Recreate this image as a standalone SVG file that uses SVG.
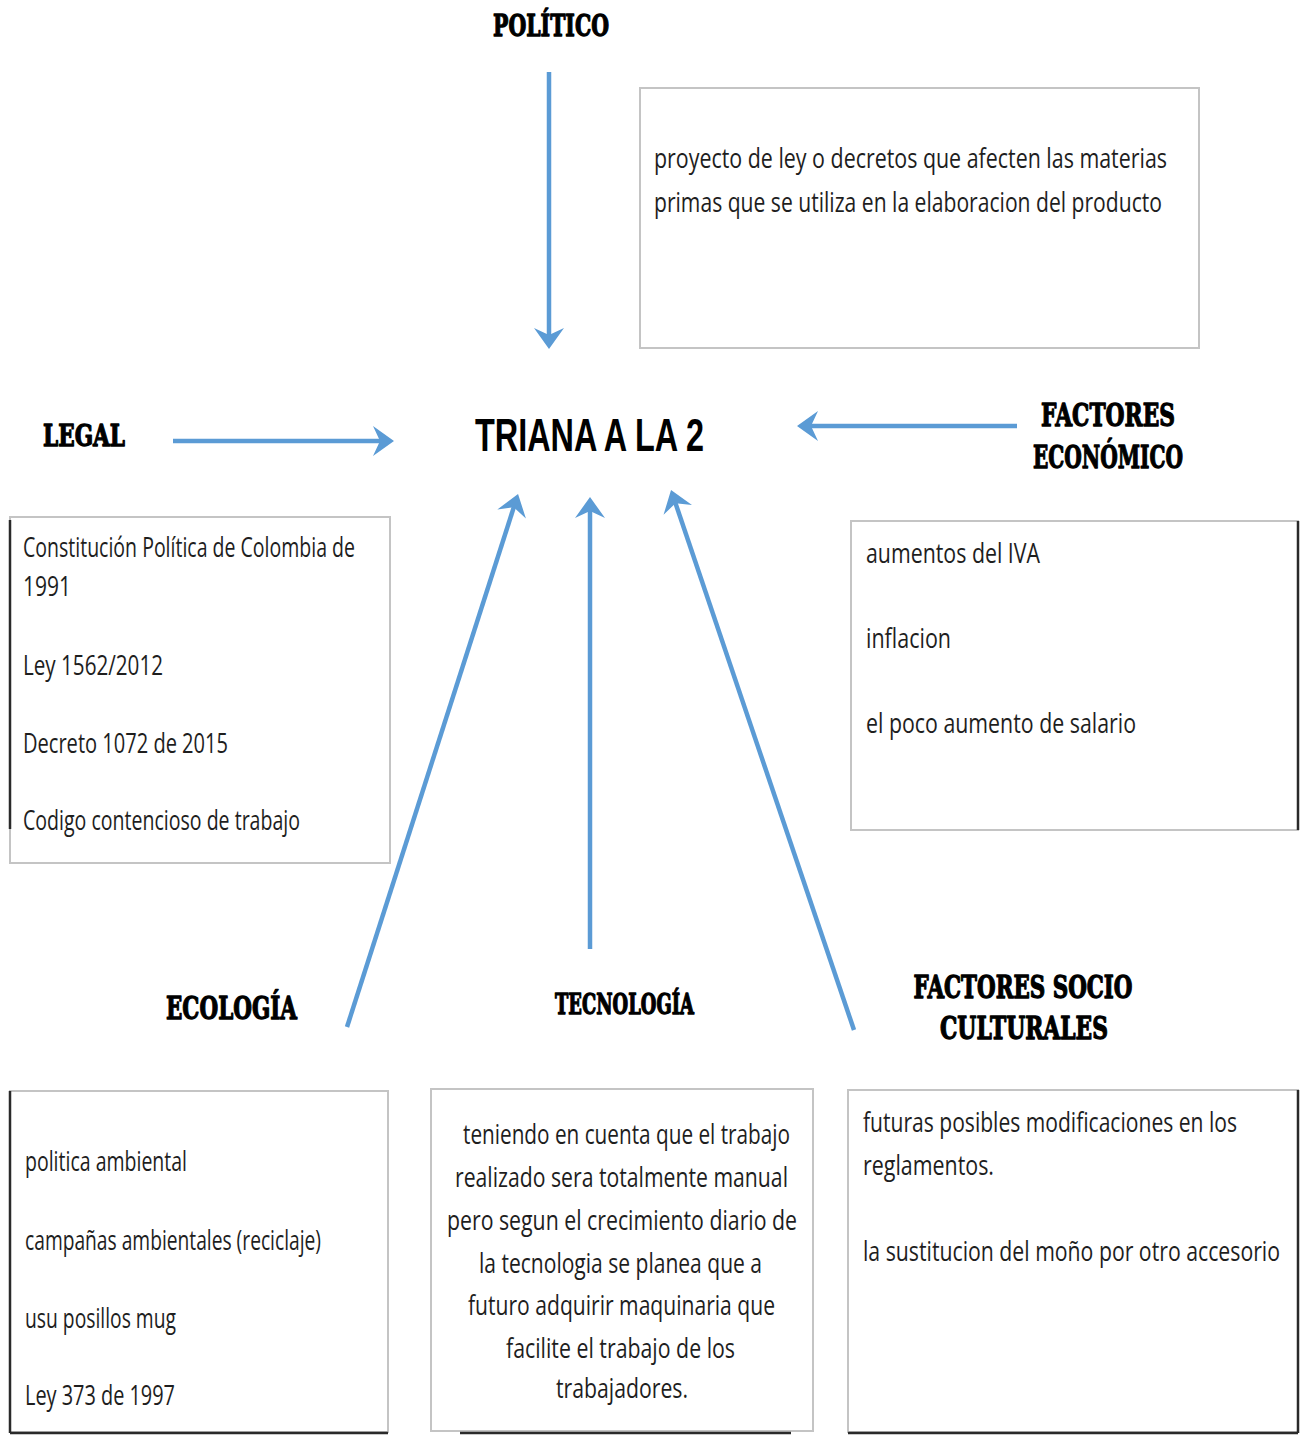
<svg xmlns="http://www.w3.org/2000/svg" width="1301" height="1437" viewBox="0 0 1301 1437">
<style>
.bg{fill:#ffffff}
.box{fill:#ffffff;stroke:#c4c4c4;stroke-width:2}
.shadow{stroke:#2a2a2a;stroke-width:2.5;fill:none}
.conn{stroke:#5B9BD5;stroke-width:4.5;fill:none}
.t{font-family:"Open Sans","Liberation Sans",sans-serif;font-size:27px;fill:#1e1e1e}
.h{font-family:"DejaVu Serif","Liberation Serif",serif;font-weight:bold;fill:#000;stroke:#000;stroke-width:1.3;stroke-linejoin:round}
.title{font-family:"Liberation Sans","Arial",sans-serif;font-weight:bold;font-size:46px;fill:#000}
</style>
<defs>
<marker id="ah" markerUnits="userSpaceOnUse" viewBox="-15 -16 24 32" refX="0" refY="0" markerWidth="24" markerHeight="32" orient="auto" overflow="visible">
<path d="M8,0 L-13,-15 L-6,0 L-13,15 Z" fill="#5B9BD5"/>
</marker>
</defs>
<rect class="bg" x="0" y="0" width="1301" height="1437"/>

<g id="connectors">
<line class="conn" x1="549" y1="72" x2="549" y2="341" marker-end="url(#ah)"/>
<line class="conn" x1="173" y1="441" x2="386" y2="441" marker-end="url(#ah)"/>
<line class="conn" x1="1017" y1="426" x2="805" y2="426" marker-end="url(#ah)"/>
<line class="conn" x1="347" y1="1027" x2="515.6" y2="501.6" marker-end="url(#ah)"/>
<line class="conn" x1="590" y1="949" x2="590" y2="505" marker-end="url(#ah)"/>
<line class="conn" x1="854" y1="1030" x2="673.6" y2="497.6" marker-end="url(#ah)"/>
</g>

<g id="center">
<text class="title" x="475" y="451" textLength="229" lengthAdjust="spacingAndGlyphs">TRIANA A LA 2</text>
</g>

<g id="politico">
<text class="h" x="493" y="36" font-size="30" textLength="116" lengthAdjust="spacingAndGlyphs">POLÍTICO</text>
</g>

<g id="politico-box">
<rect class="box" x="640" y="88" width="559" height="260"/>
<text class="t" x="654" y="168" textLength="513" lengthAdjust="spacingAndGlyphs">proyecto de ley o decretos que afecten las materias</text>
<text class="t" x="654" y="212" textLength="508" lengthAdjust="spacingAndGlyphs">primas que se utiliza en la elaboracion del producto</text>
</g>

<g id="legal">
<text class="h" x="43" y="446" font-size="29" textLength="82" lengthAdjust="spacingAndGlyphs">LEGAL</text>
</g>

<g id="legal-box">
<rect class="box" x="10" y="517" width="380" height="346"/>
<line class="shadow" x1="10" y1="520" x2="10" y2="829"/>
<text class="t" x="23" y="557" textLength="332" lengthAdjust="spacingAndGlyphs">Constitución Política de Colombia de</text>
<text class="t" x="23" y="596" textLength="48" lengthAdjust="spacingAndGlyphs">1991</text>
<text class="t" x="23" y="675" textLength="140" lengthAdjust="spacingAndGlyphs">Ley 1562/2012</text>
<text class="t" x="23" y="753" textLength="205" lengthAdjust="spacingAndGlyphs">Decreto 1072 de 2015</text>
<text class="t" x="23" y="830" textLength="277" lengthAdjust="spacingAndGlyphs">Codigo contencioso de trabajo</text>
</g>

<g id="economico">
<text class="h" x="1108" y="426" font-size="32" text-anchor="middle" textLength="134" lengthAdjust="spacingAndGlyphs">FACTORES</text>
<text class="h" x="1108" y="468" font-size="32" text-anchor="middle" textLength="150" lengthAdjust="spacingAndGlyphs">ECONÓMICO</text>
</g>

<g id="economico-box">
<rect class="box" x="851" y="521" width="447" height="309"/>
<line class="shadow" x1="1298" y1="521" x2="1298" y2="830"/>
<text class="t" x="866" y="563" textLength="174" lengthAdjust="spacingAndGlyphs">aumentos del IVA</text>
<text class="t" x="866" y="648" textLength="85" lengthAdjust="spacingAndGlyphs">inflacion</text>
<text class="t" x="866" y="733" textLength="270" lengthAdjust="spacingAndGlyphs">el poco aumento de salario</text>
</g>

<g id="ecologia">
<text class="h" x="166" y="1019" font-size="32" textLength="131" lengthAdjust="spacingAndGlyphs">ECOLOGÍA</text>
</g>

<g id="ecologia-box">
<rect class="box" x="10" y="1091" width="378" height="341"/>
<line class="shadow" x1="10" y1="1091" x2="10" y2="1433"/>
<line class="shadow" x1="10" y1="1433" x2="388" y2="1433"/>
<text class="t" x="25" y="1171" textLength="162" lengthAdjust="spacingAndGlyphs">politica ambiental</text>
<text class="t" x="25" y="1250" textLength="296" lengthAdjust="spacingAndGlyphs">campañas ambientales (reciclaje)</text>
<text class="t" x="25" y="1328" textLength="151" lengthAdjust="spacingAndGlyphs">usu posillos mug</text>
<text class="t" x="25" y="1405" textLength="150" lengthAdjust="spacingAndGlyphs">Ley 373 de 1997</text>
</g>

<g id="tecnologia">
<text class="h" x="555" y="1014" font-size="27" textLength="139" lengthAdjust="spacingAndGlyphs">TECNOLOGÍA</text>
</g>

<g id="tecnologia-box">
<rect class="box" x="431" y="1089" width="382" height="342"/>
<line class="shadow" x1="460" y1="1433" x2="791" y2="1433"/>
<text class="t" x="463" y="1144" textLength="327" lengthAdjust="spacingAndGlyphs">teniendo en cuenta que el trabajo</text>
<text class="t" x="455" y="1187" textLength="333" lengthAdjust="spacingAndGlyphs">realizado sera totalmente manual</text>
<text class="t" x="447" y="1230" textLength="350" lengthAdjust="spacingAndGlyphs">pero segun el crecimiento diario de</text>
<text class="t" x="479" y="1273" textLength="283" lengthAdjust="spacingAndGlyphs">la tecnologia se planea que a</text>
<text class="t" x="468" y="1315" textLength="307" lengthAdjust="spacingAndGlyphs">futuro adquirir maquinaria que</text>
<text class="t" x="506" y="1358" textLength="229" lengthAdjust="spacingAndGlyphs">facilite el trabajo de los</text>
<text class="t" x="556" y="1398" textLength="132" lengthAdjust="spacingAndGlyphs">trabajadores.</text>
</g>

<g id="socio">
<text class="h" x="1023" y="998" font-size="31" text-anchor="middle" textLength="219" lengthAdjust="spacingAndGlyphs">FACTORES SOCIO</text>
<text class="h" x="1024" y="1039" font-size="31" text-anchor="middle" textLength="168" lengthAdjust="spacingAndGlyphs">CULTURALES</text>
</g>

<g id="socio-box">
<rect class="box" x="848" y="1090" width="450" height="342"/>
<line class="shadow" x1="1298" y1="1090" x2="1298" y2="1433"/>
<line class="shadow" x1="848" y1="1433" x2="1298" y2="1433"/>
<text class="t" x="863" y="1132" textLength="374" lengthAdjust="spacingAndGlyphs">futuras posibles modificaciones en los</text>
<text class="t" x="863" y="1175" textLength="131" lengthAdjust="spacingAndGlyphs">reglamentos.</text>
<text class="t" x="863" y="1261" textLength="417" lengthAdjust="spacingAndGlyphs">la sustitucion del moño por otro accesorio</text>
</g>
</svg>
